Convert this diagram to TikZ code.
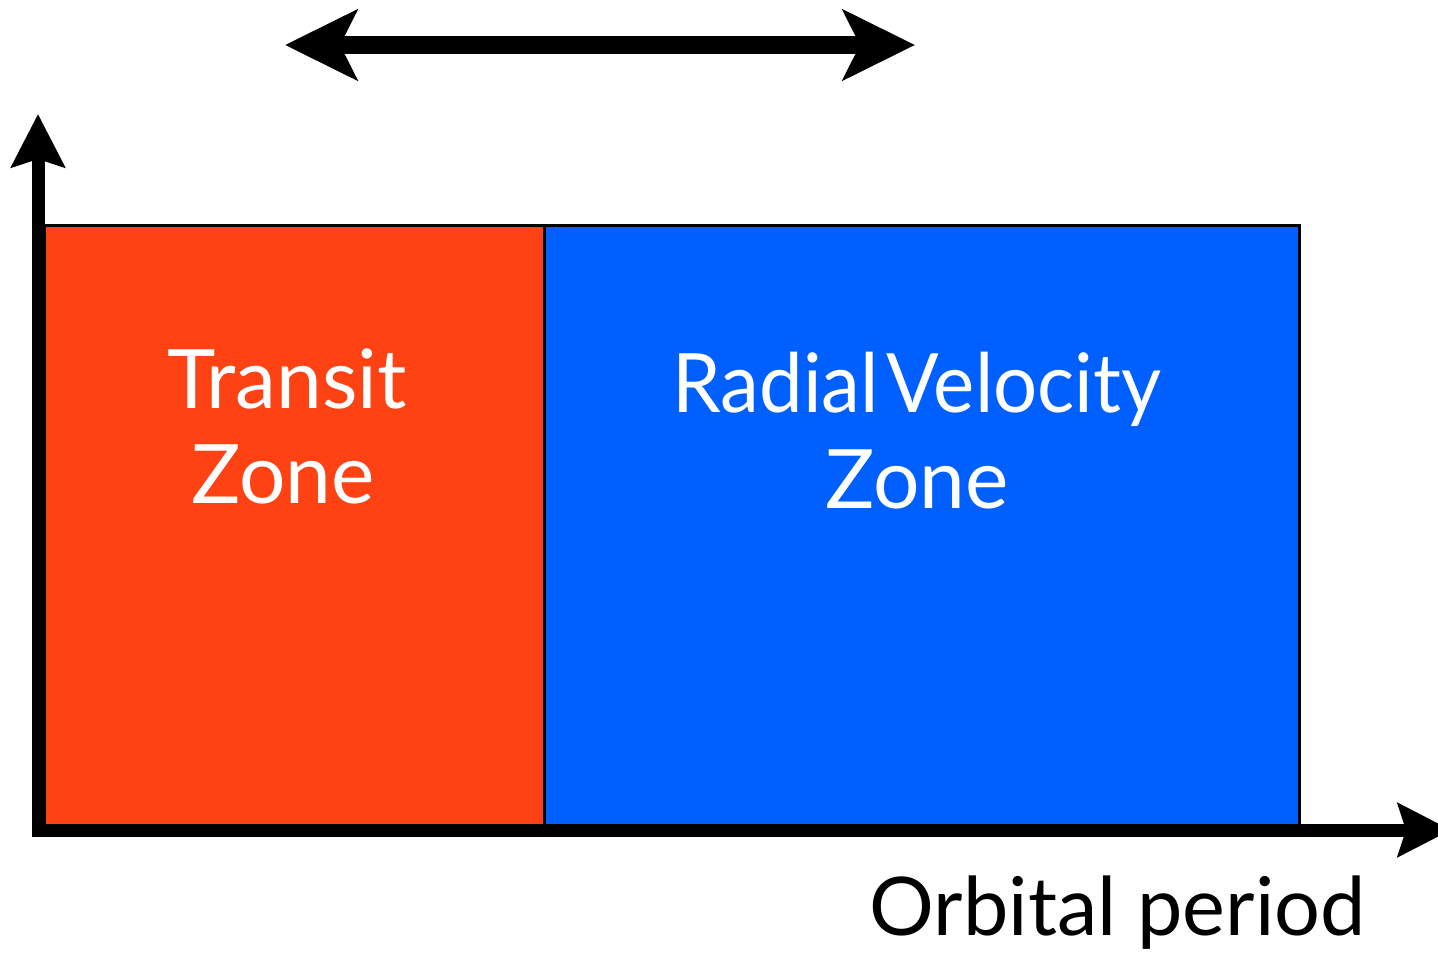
\documentclass[tikz,border=0pt]{standalone}
\usepackage{fontspec}
\setmainfont{Lato}
\newfontfamily\narrowlato[FakeStretch=0.95]{Lato}
\usetikzlibrary{arrows.meta}
\definecolor{zred}{RGB}{255,66,20}
\definecolor{zblue}{RGB}{0,96,255}
\begin{document}
\begin{tikzpicture}[x=0.5pt,y=-0.5pt,
  zone/.style={draw=black, line width=1.5pt, inner sep=0pt, outer sep=0pt, anchor=north west},
  lbl/.style={font=\fontsize{41}{48}\selectfont, inner sep=0pt, anchor=base},
  axisline/.style={line width=6.5pt, -{Stealth[length=26.5pt, width=26.5pt, inset=4pt]}},
  spanarrow/.style={line width=9pt, {Stealth[length=36pt, width=35pt, inset=8.5pt]}-{Stealth[length=36pt, width=35pt, inset=8.5pt]}}]
\useasboundingbox (0,0) rectangle (1438,954);
% zones
\node[zone, fill=zred, minimum width=250pt, minimum height=300.5pt] (tz) at (44,225) {};
\node[zone, fill=zblue, minimum width=377.5pt, minimum height=300.5pt] (rz) at (544,225) {};
% labels
\node[lbl, white] (t1) at (287,408) {Transit};
\node[lbl, white] (t2) at (283,503) {Zone};
\node[lbl, white, font=\fontsize{41}{48}\narrowlato] (r1) at (917,412) {Radial\hspace{0.1em}Velocity};
\node[lbl, white] (r2) at (917,508) {Zone};
\node[lbl, black, anchor=base east, font=\fontsize{40.5}{48}\selectfont] (xl) at (1366,935) {Orbital period};
% axes
\coordinate (o1) at (38,836);
\coordinate (yt) at (38,114);
\coordinate (o2) at (32,830);
\coordinate (xt) at (1451,830);
\draw[axisline] (o1) -- (yt);
\draw[axisline] (o2) -- (xt);
% range arrow
\coordinate (ra) at (285,45);
\coordinate (rb) at (915,45);
\draw[spanarrow] (ra) -- (rb);
\end{tikzpicture}
\end{document}
